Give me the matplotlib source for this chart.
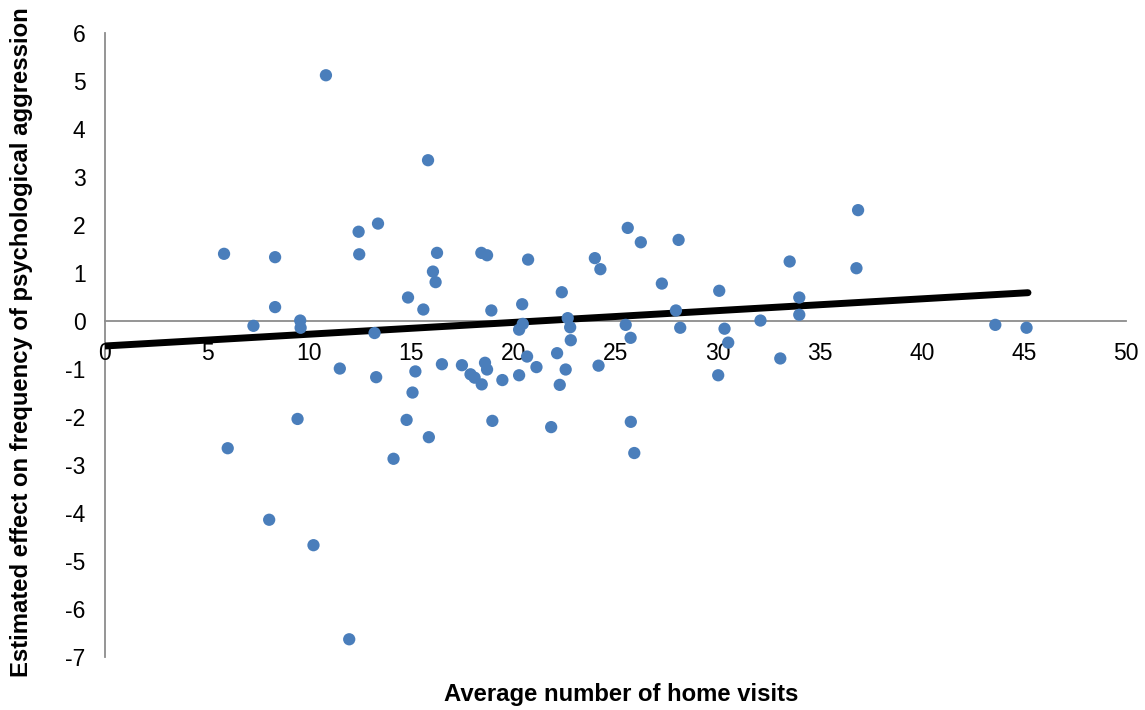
import matplotlib.pyplot as plt

plt.rcParams['font.family'] = ['Liberation Sans', 'DejaVu Sans']
plt.rcParams['axes.unicode_minus'] = False

# average home visits vs estimated effect
visits = [5.83, 6.01, 7.27, 8.33, 8.33, 8.04, 9.43, 9.56, 9.58, 10.21,
          10.82, 11.5, 11.96, 12.42, 12.45, 13.2, 13.28, 13.37, 14.13, 14.77,
          14.84, 15.06, 15.2, 15.59, 15.82, 15.86, 16.06, 16.19, 16.26, 16.5,
          17.48, 17.9, 18.1, 18.45, 18.43, 18.61, 18.71, 18.71, 18.92, 18.97,
          19.46, 20.28, 20.28, 20.43, 20.46, 20.67, 20.72, 21.13, 21.85, 22.14,
          22.27, 22.37, 22.56, 22.66, 22.78, 22.81, 23.99, 24.17, 24.26, 25.5,
          25.6, 25.74, 25.75, 25.92, 26.24, 27.27, 27.96, 28.09, 28.17, 30.03,
          30.08, 30.34, 30.52, 32.1, 33.07, 33.53, 34.0, 34.0, 36.8, 36.88,
          43.6, 45.13]
effect = [1.40, -2.65, -0.10, 1.33, 0.29, -4.14, -2.04, 0.01, -0.14, -4.67,
          5.12, -0.99, -6.63, 1.86, 1.39, -0.25, -1.17, 2.03, -2.87, -2.06,
          0.49, -1.49, -1.05, 0.24, 3.35, -2.42, 1.03, 0.81, 1.42, -0.90,
          -0.92, -1.11, -1.18, -1.32, 1.42, -0.87, 1.37, -1.01, 0.22, -2.08,
          -1.23, -0.18, -1.13, 0.35, -0.06, -0.74, 1.28, -0.96, -2.21, -0.67,
          -1.33, 0.60, -1.01, 0.06, -0.13, -0.40, 1.31, -0.93, 1.08, -0.08,
          1.94, -0.35, -2.10, -2.75, 1.64, 0.78, 0.22, 1.69, -0.14, -1.13,
          0.63, -0.16, -0.45, 0.01, -0.78, 1.24, 0.49, 0.13, 1.10, 2.31,
          -0.08, -0.14]

# linear trend line end points
trend_x = [0, 45.2]
trend_y = [-0.52, 0.59]

xticks = [0, 5, 10, 15, 20, 25, 30, 35, 40, 45, 50]
yticks = [-7, -6, -5, -4, -3, -2, -1, 0, 1, 2, 3, 4, 5, 6]

fig = plt.figure(figsize=(11.45, 7.1), dpi=100)
ax = fig.add_axes([0.0917, 0.0746, 0.8917, 0.8789])

ax.plot(trend_x, trend_y, color='black', lw=5, solid_capstyle='round', zorder=2)
ax.scatter(visits, effect, s=78, color='#4A7EBB', edgecolors='none', zorder=3)

ax.set_xlim(0, 50)
ax.set_ylim(-7, 6)
ax.set_xticks(xticks)
ax.set_yticks(yticks)

ax.spines['top'].set_visible(False)
ax.spines['right'].set_visible(False)
ax.spines['bottom'].set_position(('data', 0))
for s in ['left', 'bottom']:
    ax.spines[s].set_color('#8c8c8c')
    ax.spines[s].set_linewidth(1.3)
    ax.spines[s].set_zorder(1)

ax.tick_params(axis='both', length=0, labelsize=16.5)
ax.tick_params(axis='x', pad=15)
ax.tick_params(axis='y', pad=14)

fig.text(621 / 1145, 1 - 694 / 710, 'Average number of home visits',
         ha='center', va='center', fontsize=17.2, fontweight='bold')
fig.text(22 / 1145, 1 - 342 / 710,
         'Estimated effect on frequency of psychological aggression',
         ha='center', va='center', rotation=90, fontsize=17.2, fontweight='bold')

fig.savefig('out.png', dpi=100)
